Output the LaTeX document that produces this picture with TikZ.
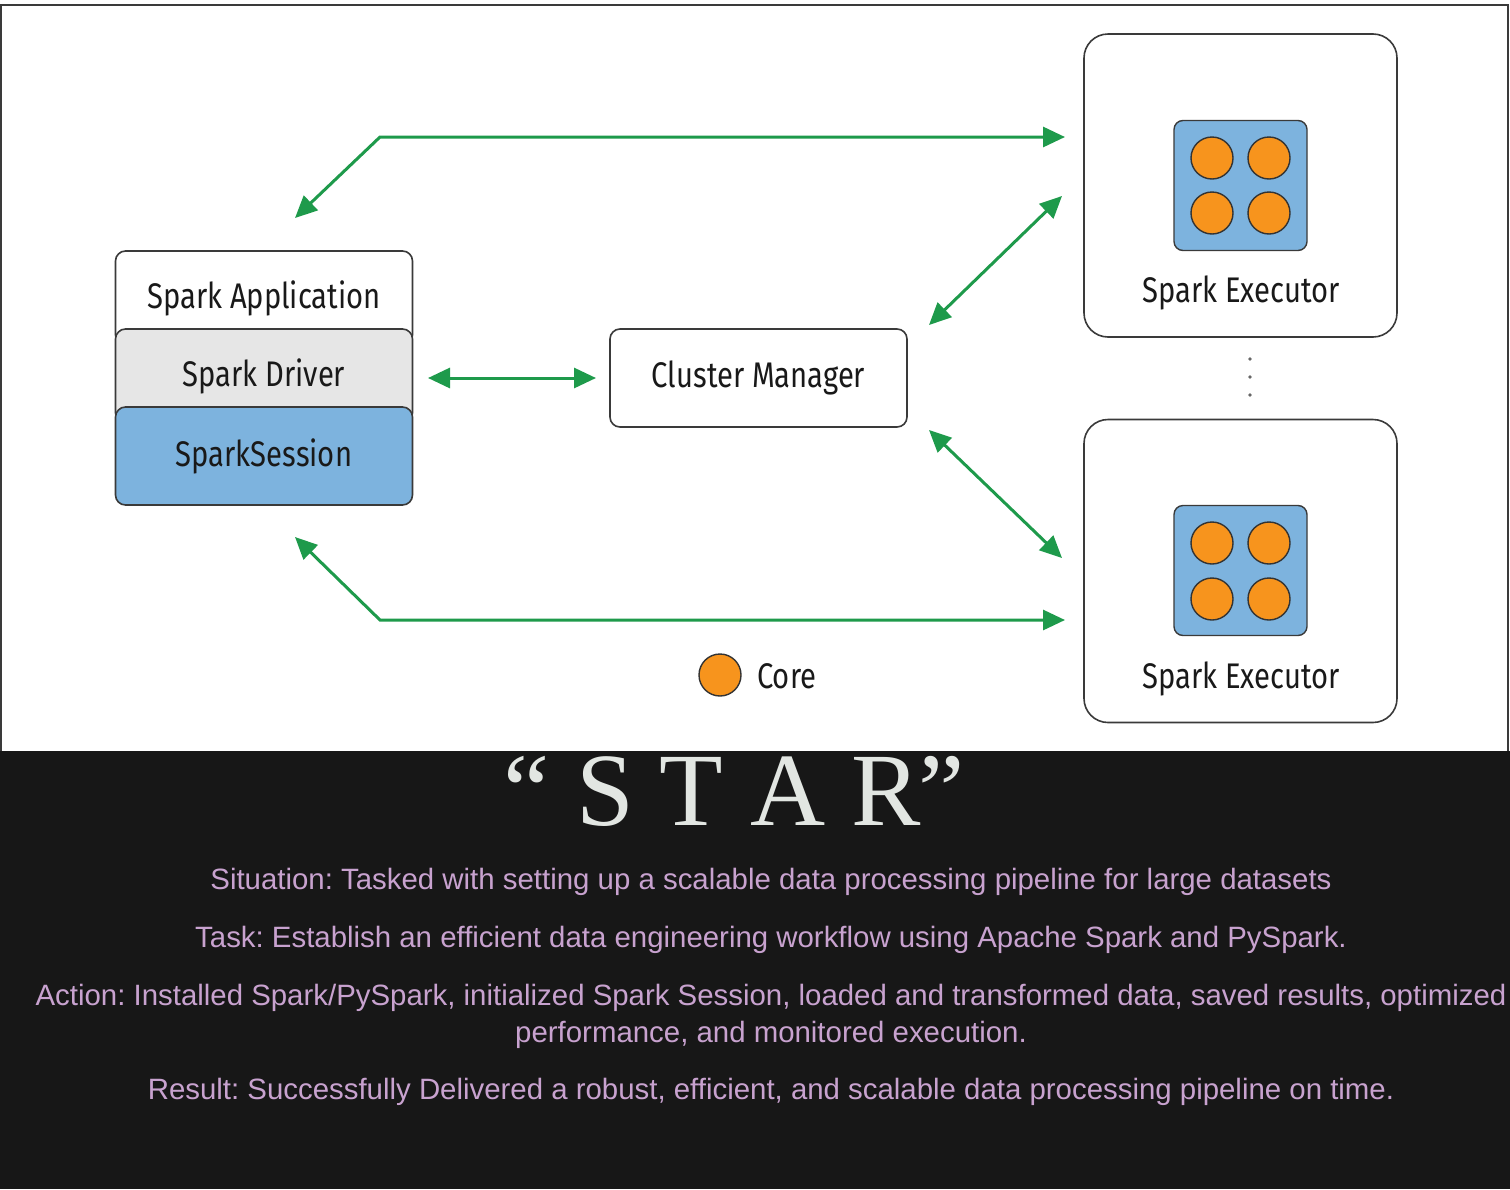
\documentclass[tikz,border=0pt]{standalone}
\usepackage{fontspec}
\setmainfont{Liberation Serif}
\newfontfamily\diagfont[FakeStretch=0.82]{Fira Sans}
\newfontfamily\bodyfont{Liberation Sans}
\newfontfamily\titlefont{Liberation Serif}
\usetikzlibrary{arrows.meta}
\definecolor{arrowgreen}{HTML}{1E9A4B}
\definecolor{boxblue}{HTML}{7DB3DE}
\definecolor{coreorange}{HTML}{F7941D}
\definecolor{drivergray}{HTML}{E6E6E6}
\definecolor{edgecol}{HTML}{3A3A3A}
\definecolor{darkbg}{HTML}{171717}
\definecolor{startext}{HTML}{E2E6E2}
\definecolor{lilac}{HTML}{C8A2CF}
\newcommand\lowertext[1]{\raisebox{-2.5pt}{#1}}
\frenchspacing
\begin{document}
\begin{tikzpicture}[x=1pt,y=-1pt,
  box/.style={draw=edgecol, line width=1.6pt, rounded corners=10pt, inner sep=0pt, minimum width=297pt,
    font=\diagfont\fontsize{35.6}{38}\selectfont, text=black!90},
  execbox/.style={draw=edgecol, line width=1.6pt, rounded corners=24pt, fill=white, minimum width=313pt, minimum height=303pt},
  coresq/.style={draw=edgecol, line width=1.4pt, rounded corners=9pt, fill=boxblue, minimum width=133pt, minimum height=130pt},
  core/.style={circle, draw=black!80, line width=1.4pt, fill=coreorange, minimum size=42pt, inner sep=0pt},
  link/.style={draw=arrowgreen, line width=3pt, >={Triangle[length=22pt,width=20pt]}, <->},
  lbl/.style={font=\diagfont\fontsize{35.6}{38}\selectfont, text=black!90, inner sep=0pt},
  bodytext/.style={font=\bodyfont\fontsize{29.4}{37}\selectfont, text=lilac, align=center, inner sep=0pt},
]
\useasboundingbox (0,0) rectangle (1510,1189);
\fill[white] (0,0) rectangle (1510,1189);
\fill[darkbg] (0,751) rectangle (1510,1189);
\draw[edgecol, line width=2.5pt] (1,751) -- (1,5) -- (1508,5) -- (1508,751);

% Spark application stack
\node[box, fill=white, minimum height=94pt] (app) at (264,298) {\lowertext{Spark Application}};
\node[box, fill=drivergray, minimum height=94pt] (drv) at (264,376) {\lowertext{Spark Driver}};
\node[box, fill=boxblue, minimum height=98pt] (sess) at (264,456) {\lowertext{SparkSession}};

% Cluster manager
\node[box, fill=white, minimum height=98pt] (cm) at (758.5,378) {\lowertext{Cluster Manager}};

% Executors
\node[execbox] (ex1) at (1240.5,185.5) {};
\node[coresq] (cs1) at (1240.5,185.5) {};
\node[core] (c11) at (1212,158) {};
\node[core] (c12) at (1269,158) {};
\node[core] (c13) at (1212,213) {};
\node[core] (c14) at (1269,213) {};
\node[lbl] (ex1lbl) at (1241,292.5) {Spark Executor};

\node[execbox] (ex2) at (1240.5,571) {};
\node[coresq] (cs2) at (1240.5,570.5) {};
\node[core] (c21) at (1212,543) {};
\node[core] (c22) at (1269,543) {};
\node[core] (c23) at (1212,599) {};
\node[core] (c24) at (1269,599) {};
\node[lbl] (ex2lbl) at (1241,678.5) {Spark Executor};

% vertical ellipsis
\fill[black!60] (1250,359) circle (1.8pt) (1250,377) circle (1.8pt) (1250,395) circle (1.8pt);

% Legend
\node[core] (legcore) at (720,675) {};
\node[lbl, anchor=west] (legtxt) at (757,676) {Core};

% Connectors
\coordinate (t0) at (295,218);
\coordinate (tb) at (380,137);
\coordinate (t1) at (1065,137);
\draw[link] (t0) -- (tb) -- (t1);

\coordinate (b0) at (295,537);
\coordinate (bb) at (380,620);
\coordinate (b1) at (1065,620);
\draw[link] (b0) -- (bb) -- (b1);

\coordinate (d0) at (428,378);
\coordinate (d1) at (596,378);
\draw[link] (d0) -- (d1);

\coordinate (e10) at (929,325);
\coordinate (e11) at (1062,196);
\draw[link] (e10) -- (e11);

\coordinate (e20) at (929,430);
\coordinate (e21) at (1062,558);
\draw[link] (e20) -- (e21);

% STAR section
\node[font=\titlefont\fontsize{104}{104}\selectfont, text=startext, inner sep=0pt, anchor=base west] (star) at (503,825)
  {“\kern27pt S\kern25pt T\kern28pt A\kern26pt R\kern-3pt ”};

\node[bodytext] (sit) at (771,882) {Situation: Tasked with setting up a scalable data processing pipeline for large datasets};
\node[bodytext] (task) at (771,940) {Task: Establish an efficient data engineering workflow using Apache Spark and PySpark.};
\node[bodytext] (act) at (771,1016) {Action: Installed Spark/PySpark, initialized Spark Session, loaded and transformed data, saved results, optimized\\performance, and monitored execution.};
\node[bodytext] (res) at (771,1092) {Result: Successfully Delivered a robust, efficient, and scalable data processing pipeline on time.};
\end{tikzpicture}
\end{document}
